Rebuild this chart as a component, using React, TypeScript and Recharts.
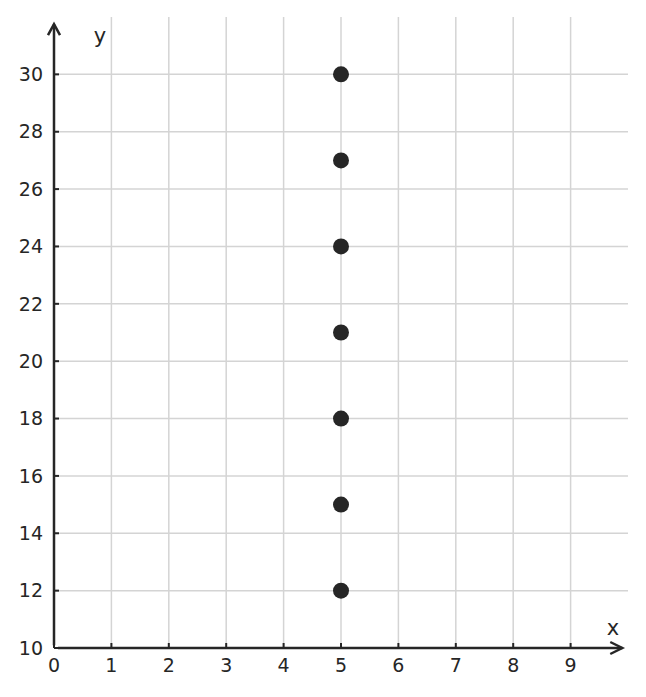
import { ScatterChart, Scatter, XAxis, YAxis, ReferenceLine } from 'recharts'

// data
const xValues = [5, 5, 5, 5, 5, 5, 5]
const yValues = [12, 15, 18, 21, 24, 27, 30]
const xTicks = [0, 1, 2, 3, 4, 5, 6, 7, 8, 9]
const yTicks = [10, 12, 14, 16, 18, 20, 22, 24, 26, 28, 30]
const xGrid = [1, 2, 3, 4, 5, 6, 7, 8, 9]
const yGrid = [12, 14, 16, 18, 20, 22, 24, 26, 28, 30]
const xMax = 10
const yMax = 32

const points = xValues.map((x, i) => ({ x, y: yValues[i] }))

const INK = '#262626'
const GRID = '#d4d4d4'
const FONT = 'DejaVu Sans, sans-serif'

// axis line with an open chevron at its far end
function ArrowLine(props: any) {
  const { x1, y1, x2, y2 } = props
  const vertical = Math.abs(x1 - x2) < 1
  const head = vertical
    ? `M${x2 - 6},${y2 + 11} L${x2},${y2} L${x2 + 6},${y2 + 11}`
    : `M${x2 - 12},${y2 - 6} L${x2},${y2} L${x2 - 12},${y2 + 6}`
  return (
    <g>
      <line x1={x1} y1={y1} x2={x2} y2={y2} stroke={INK} strokeWidth={2.5} />
      <path d={head} fill="none" stroke={INK} strokeWidth={2.5} strokeLinejoin="miter" />
    </g>
  )
}

export default function App() {
  return (
    <div style={{ position: 'absolute', left: 0, top: 0, width: 646, height: 697, background: '#fff' }}>
      <ScatterChart width={646} height={697} margin={{ top: 17, right: 18, bottom: 0, left: 0 }}>
        <XAxis
          type="number"
          dataKey="x"
          domain={[0, xMax]}
          ticks={xTicks}
          interval={0}
          height={49}
          axisLine={false}
          tickLine={{ stroke: INK, strokeWidth: 2 }}
          tickSize={-5}
          tickMargin={16}
          tick={{ fill: INK, fontSize: 19, fontFamily: FONT }}
          label={{
            content: (p: any) => (
              <text
                x={p.viewBox.x + p.viewBox.width - 15}
                y={p.viewBox.y - 13}
                textAnchor="middle"
                fill={INK}
                fontSize={21}
                fontFamily={FONT}
              >
                x
              </text>
            ),
          }}
        />
        <YAxis
          type="number"
          dataKey="y"
          domain={[10, yMax]}
          ticks={yTicks}
          interval={0}
          width={54}
          axisLine={false}
          tickLine={{ stroke: INK, strokeWidth: 2 }}
          tickSize={-5}
          tickMargin={16}
          tick={{ fill: INK, fontSize: 19, fontFamily: FONT }}
          label={{
            content: (p: any) => (
              <text
                x={p.viewBox.x + p.viewBox.width + 46}
                y={p.viewBox.y + 26}
                textAnchor="middle"
                fill={INK}
                fontSize={21}
                fontFamily={FONT}
              >
                y
              </text>
            ),
          }}
        />
        {xGrid.map((v) => (
          <ReferenceLine
            key={`gx-${v}`}
            segment={[{ x: v, y: 10 }, { x: v, y: yMax }]}
            stroke={GRID}
            strokeWidth={1.5}
          />
        ))}
        {yGrid.map((v) => (
          <ReferenceLine
            key={`gy-${v}`}
            segment={[{ x: 0, y: v }, { x: xMax, y: v }]}
            stroke={GRID}
            strokeWidth={1.5}
          />
        ))}
        <ReferenceLine
          segment={[{ x: 0, y: 10.1 }, { x: 0, y: 31.75 }]}
          ifOverflow="visible"
          shape={ArrowLine}
        />
        <ReferenceLine
          segment={[{ x: 0.07, y: 10 }, { x: 9.9, y: 10 }]}
          ifOverflow="visible"
          shape={ArrowLine}
        />
        <Scatter
          data={points}
          isAnimationActive={false}
          shape={(p: any) => <circle cx={p.cx} cy={p.cy} r={8} fill={INK} />}
        />
      </ScatterChart>
    </div>
  )
}
